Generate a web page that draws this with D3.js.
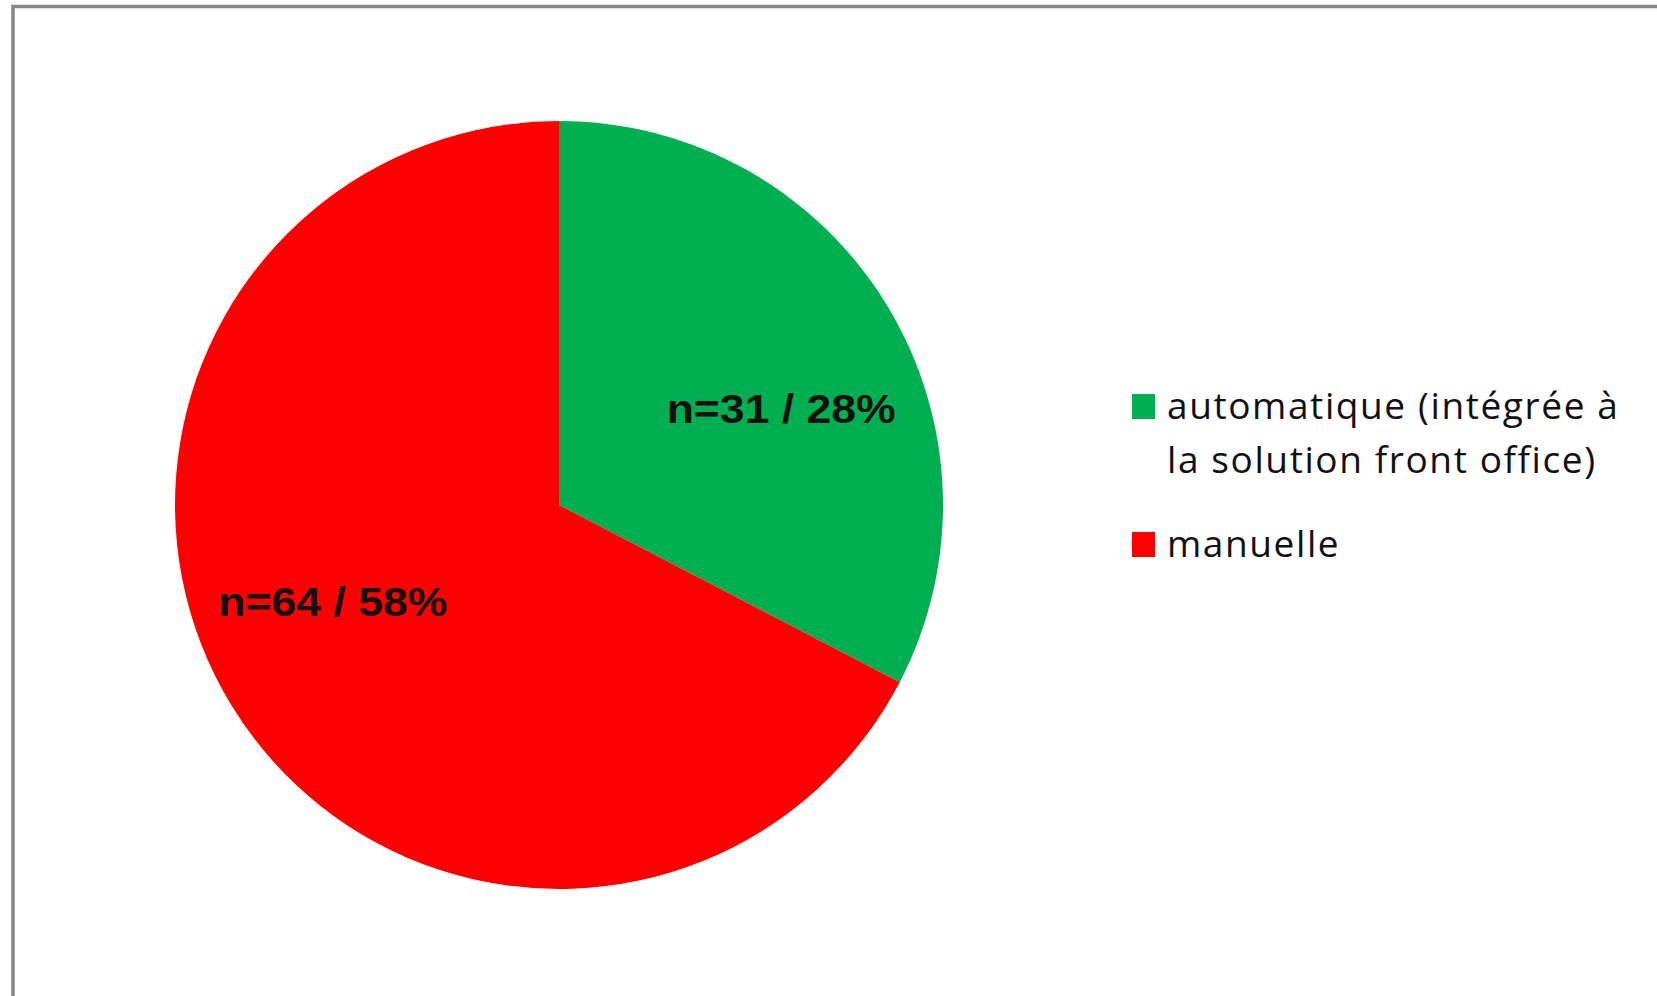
<!DOCTYPE html>
<html>
<head>
<meta charset="utf-8">
<script src="https://cdn.jsdelivr.net/npm/d3@7"></script>
<style>
  html, body { margin: 0; padding: 0; background: #fff; }
  svg { display: block; }
</style>
</head>
<body>
<svg id="chart" width="1657" height="996"></svg>
<script>
// Data
const categories = ["automatique (intégrée à la solution front office)", "manuelle"];
const legendLines = [["automatique (intégrée à", "la solution front office)"], ["manuelle"]];
const counts = [31, 64];
const percents = [28, 58];
const colors = ["#00B050", "#FF0000"];

const svg = d3.select("#chart");
const W = 1657, H = 996;

// frame (only top/left visible)
svg.append("rect")
  .attr("x", 13).attr("y", 6.5)
  .attr("width", W + 20).attr("height", H + 20)
  .attr("fill", "#fff")
  .attr("stroke", "#878787")
  .attr("stroke-width", 3.5);

const cx = 559, cy = 505, R = 384;
const g = svg.append("g").attr("transform", `translate(${cx},${cy})`);

const pie = d3.pie().sort(null).value(d => d.v);
const data = categories.map((c, i) => ({ c, v: counts[i], p: percents[i], col: colors[i] }));
const arcs = pie(data);
const arc = d3.arc().innerRadius(0).outerRadius(R);

g.selectAll("path.slice").data(arcs).enter().append("path")
  .attr("class", "slice")
  .attr("d", arc)
  .attr("fill", d => d.data.col);

// labels
const labelR = 244, angleShift = 8 * Math.PI / 180;
g.selectAll("text.lbl").data(arcs).enter().append("text")
  .attr("class", "lbl")
  .attr("x", d => labelR * Math.sin((d.startAngle + d.endAngle) / 2 + angleShift) - 2)
  .attr("y", d => -labelR * Math.cos((d.startAngle + d.endAngle) / 2 + angleShift))
  .attr("dy", "0.36em")
  .attr("text-anchor", "middle")
  .attr("font-family", "'Liberation Sans', Arial, sans-serif")
  .attr("font-weight", "bold")
  .attr("font-size", 41)
  .attr("fill", "#111")
  .attr("textLength", 229)
  .attr("lengthAdjust", "spacingAndGlyphs")
  .text(d => `n=${d.data.v} / ${d.data.p}%`);

// legend
const legX = 1132, legY0 = 394, itemGap = 138, lineH = 54;
const leg = svg.append("g");
data.forEach((d, i) => {
  const y = legY0 + i * itemGap;
  leg.append("rect").attr("x", legX).attr("y", y).attr("width", 23).attr("height", 25).attr("fill", d.col);
  legendLines[i].forEach((ln, j) => {
    leg.append("text")
      .attr("x", legX + 35)
      .attr("y", y + 25 + j * lineH)
      .attr("font-family", "'Open Sans', 'Noto Sans', sans-serif")
      .attr("font-size", 37)
      .attr("letter-spacing", 1.6)
      .attr("fill", "#111")
      .text(ln);
  });
});
</script>
</body>
</html>
